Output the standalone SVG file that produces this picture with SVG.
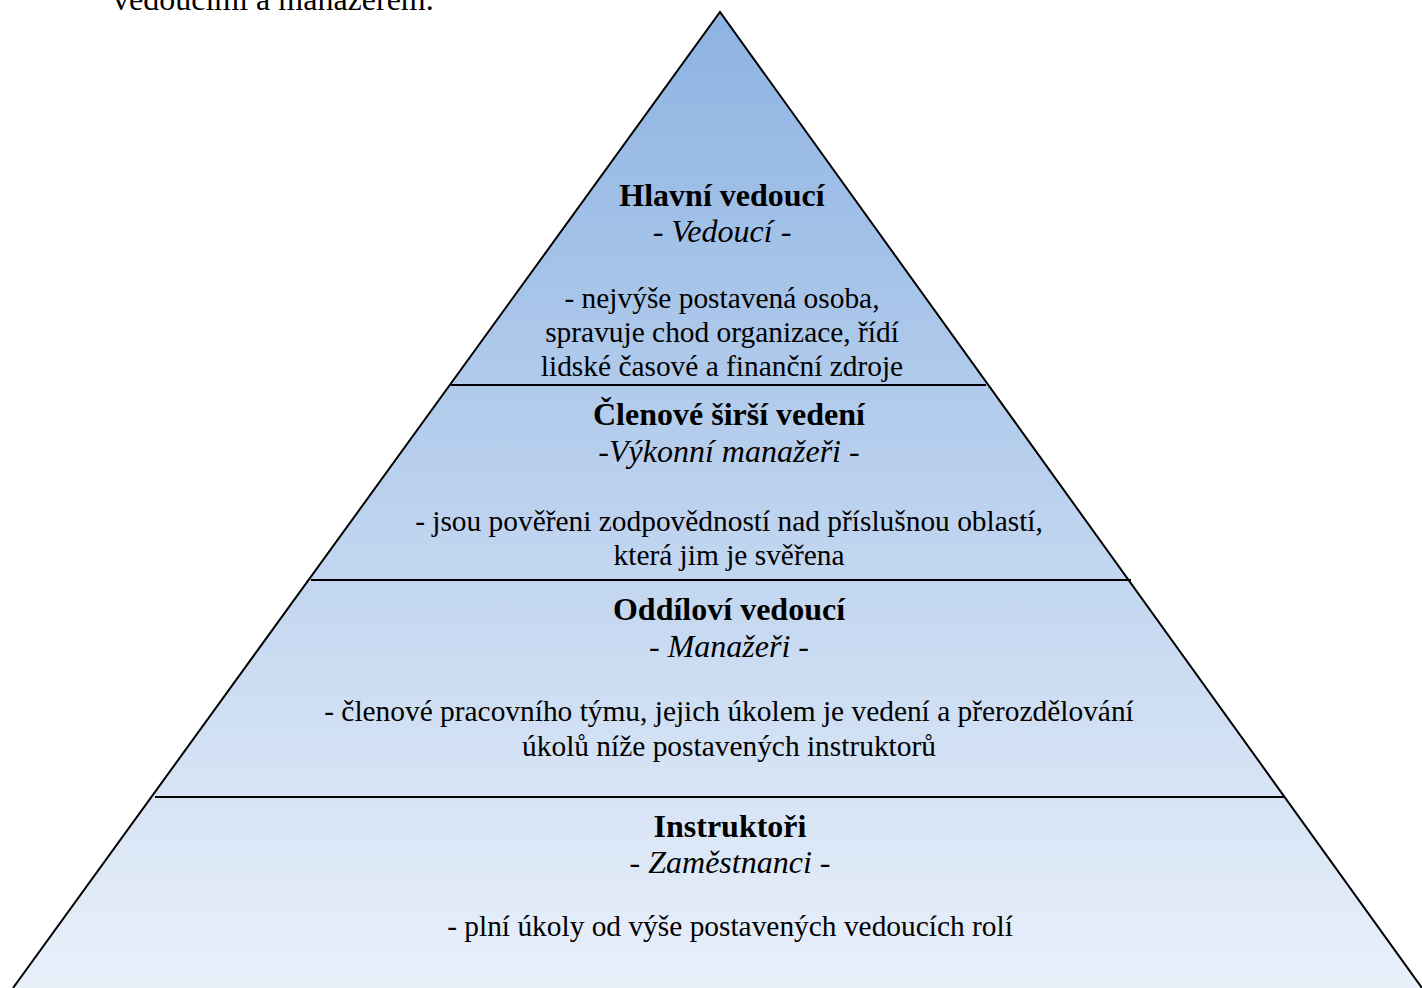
<svg xmlns="http://www.w3.org/2000/svg" width="1422" height="988" viewBox="0 0 1422 988">
<defs>
<linearGradient id="g" x1="0" y1="12" x2="0" y2="988" gradientUnits="userSpaceOnUse">
<stop offset="0" stop-color="#8db3e2"/>
<stop offset="1" stop-color="#e9f0fa"/>
</linearGradient>
<style>
text{font-family:"Liberation Serif","Times New Roman",serif;fill:#000;text-anchor:middle}
.h{font-size:32px;font-weight:bold}
.s{font-size:32px;font-style:italic}
.b{font-size:29.4px}
.ln{stroke:#000;stroke-width:2;fill:none}
</style>
</defs>
<rect width="1422" height="988" fill="#fff"/>
<text x="113" y="10" style="font-size:32px;text-anchor:start">vedoucími a manažerem.</text>
<g id="pyramid">
<polygon points="720,12 1422,988 13,988" fill="url(#g)" stroke="none"/>
<polyline class="ln" points="13,988 720,12 1422,988"/>
</g>
<g id="connectors">
<line class="ln" x1="451" y1="385" x2="986" y2="385"/>
<line class="ln" x1="311" y1="580" x2="1131" y2="580"/>
<line class="ln" x1="155" y1="797" x2="1285" y2="797"/>
</g>
<g id="level1">
<text class="h" x="722" y="206">Hlavní vedoucí</text>
<text class="s" x="722" y="242">- Vedoucí -</text>
<text class="b" x="722" y="308">- nejvýše postavená osoba,</text>
<text class="b" x="722" y="342">spravuje chod organizace, řídí</text>
<text class="b" x="722" y="376">lidské časové a finanční zdroje</text>
</g>
<g id="level2">
<text class="h" x="729" y="425">Členové širší vedení</text>
<text class="s" x="729" y="462">-Výkonní manažeři -</text>
<text class="b" x="729" y="531">- jsou pověřeni zodpovědností nad příslušnou oblastí,</text>
<text class="b" x="729" y="565">která jim je svěřena</text>
</g>
<g id="level3">
<text class="h" x="729" y="620">Oddíloví vedoucí</text>
<text class="s" x="729" y="657">- Manažeři -</text>
<text class="b" x="729" y="721">- členové pracovního týmu, jejich úkolem je vedení a přerozdělování</text>
<text class="b" x="729" y="756">úkolů níže postavených instruktorů</text>
</g>
<g id="level4">
<text class="h" x="730" y="837">Instruktoři</text>
<text class="s" x="730" y="873">- Zaměstnanci -</text>
<text class="b" x="730" y="936">- plní úkoly od výše postavených vedoucích rolí</text>
</g>
</svg>
